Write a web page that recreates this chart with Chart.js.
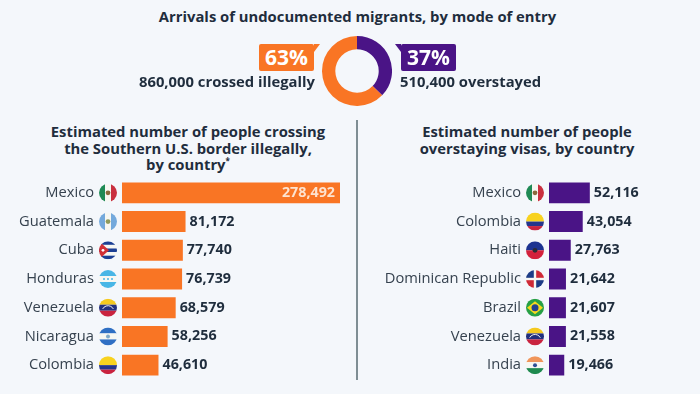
<!DOCTYPE html>
<html>
<head>
<meta charset="utf-8">
<script src="https://cdn.jsdelivr.net/npm/chart.js@4"></script>
<style>
html, body { margin: 0; padding: 0; }
body { width: 700px; height: 394px; background: #f4f7fb; position: relative; overflow: hidden; font-family: "Open Sans", sans-serif; color: #1f2d3d; }
canvas { position: absolute; }
.txt { position: absolute; font-weight: 700; white-space: nowrap; font-size: 14.8px; }
.center { text-align: center; }
.head { line-height: 16.5px; }
.badge { position: absolute; top: 44px; width: 55px; height: 27px; line-height: 27px; color: #fff; font-size: 21px; font-weight: 700; text-align: center; border-radius: 2px; }
.tail { position: absolute; top: 44px; width: 0; height: 0; border-top: 8px solid; }
#divider { position: absolute; left: 356px; top: 120px; width: 2px; height: 260px; background: #7f8e94; }
</style>
</head>
<body>
<div class="txt center" style="left:0;width:715px;top:7px;line-height:18px">Arrivals of undocumented migrants, by mode of entry</div>

<canvas id="entry_mode" width="70" height="70" style="left:322px;top:36px"></canvas>
<div class="badge" style="left:259px;background:#f97524">63%</div>
<div class="tail" style="left:314px;border-top-color:#f97524;border-right:6px solid transparent"></div>
<div class="badge" style="left:401px;background:#4a1486">37%</div>
<div class="tail" style="left:395px;border-top-color:#4a1486;border-left:6px solid transparent"></div>
<div class="txt" style="right:385px;top:72px;line-height:18px">860,000 crossed illegally</div>
<div class="txt" style="left:400px;top:72px;line-height:18px">510,400 overstayed</div>

<div class="txt center head" style="left:38px;width:300px;top:123px">Estimated number of people crossing<br>the Southern U.S. border illegally,<br>by country<sup style="font-size:8px;line-height:0">*</sup></div>
<div class="txt center head" style="left:377px;width:300px;top:123px">Estimated number of people<br>overstaying visas, by country</div>
<div id="divider"></div>

<canvas id="crossing" width="350" height="202" style="left:0;top:178px"></canvas>
<canvas id="overstay" width="350" height="202" style="left:350px;top:178px"></canvas>

<script>
var entryLabels = ['Overstayed', 'Crossed illegally'];
var entryValues = [510400, 860000];

var crossingCountries = ['Mexico', 'Guatemala', 'Cuba', 'Honduras', 'Venezuela', 'Nicaragua', 'Colombia'];
var crossingValues = [278492, 81172, 77740, 76739, 68579, 58256, 46610];

var overstayCountries = ['Mexico', 'Colombia', 'Haiti', 'Dominican Republic', 'Brazil', 'Venezuela', 'India'];
var overstayValues = [52116, 43054, 27763, 21642, 21607, 21558, 19466];

var ORANGE = '#f97524';
var PURPLE = '#4a1486';

// stripes go top to bottom, or left to right with vertical: true
function stripes(c, x, y, r, colors, vertical, shares) {
    var pos = -r;
    colors.forEach(function (col, i) {
        var size = 2 * r * (shares ? shares[i] : 1 / colors.length);
        c.fillStyle = col;
        if (vertical) c.fillRect(x + pos, y - r, size, 2 * r);
        else c.fillRect(x - r, y + pos, 2 * r, size);
        pos += size;
    });
}

function dot(c, x, y, r, col) {
    c.fillStyle = col;
    c.beginPath();
    c.arc(x, y, r, 0, Math.PI * 2);
    c.fill();
}

var flags = {
    'Mexico': function (c, x, y, r) {
        stripes(c, x, y, r, ['#1f8a55', '#f7f7f2', '#c9303f'], true);
        dot(c, x, y, 2.4, '#8a6a3c');
    },
    'Guatemala': function (c, x, y, r) {
        stripes(c, x, y, r, ['#74a9dc', '#f7f7f2', '#74a9dc'], true);
        dot(c, x, y, 2.4, '#8f9a5c');
    },
    'Cuba': function (c, x, y, r) {
        stripes(c, x, y, r, ['#1c3f94', '#f7f7f2', '#1c3f94', '#f7f7f2', '#1c3f94']);
        c.fillStyle = '#d22f36';
        c.beginPath();
        c.moveTo(x - r, y - r);
        c.lineTo(x + 1, y);
        c.lineTo(x - r, y + r);
        c.fill();
        dot(c, x - 5, y, 1.4, '#fff');
    },
    'Honduras': function (c, x, y, r) {
        stripes(c, x, y, r, ['#49b6e6', '#f7f7f2', '#49b6e6']);
        dot(c, x, y, 1, '#49b6e6');
        dot(c, x - 4, y, 1, '#49b6e6');
        dot(c, x + 4, y, 1, '#49b6e6');
    },
    'Venezuela': function (c, x, y, r) {
        stripes(c, x, y, r, ['#f5c91f', '#22307e', '#c9233f']);
        c.strokeStyle = '#f0f0f0';
        c.lineWidth = 1;
        c.beginPath();
        c.arc(x, y + 4, 6, Math.PI * 1.15, Math.PI * 1.85);
        c.stroke();
    },
    'Nicaragua': function (c, x, y, r) {
        stripes(c, x, y, r, ['#2f6fc4', '#f7f7f2', '#2f6fc4']);
        dot(c, x, y, 2, '#7fa9c9');
    },
    'Colombia': function (c, x, y, r) {
        stripes(c, x, y, r, ['#f8d21f', '#25358c', '#c9233f'], false, [0.5, 0.25, 0.25]);
    },
    'Haiti': function (c, x, y, r) {
        stripes(c, x, y, r, ['#1c3391', '#d3213c']);
        dot(c, x, y, 2.4, '#2b2b33');
    },
    'Dominican Republic': function (c, x, y, r) {
        stripes(c, x, y, r, ['#f7f7f2']);
        c.fillStyle = '#1d3c86';
        c.fillRect(x - r, y - r, r - 1.2, r - 1.2);
        c.fillRect(x + 1.2, y + 1.2, r, r);
        c.fillStyle = '#cf2a37';
        c.fillRect(x + 1.2, y - r, r, r - 1.2);
        c.fillRect(x - r, y + 1.2, r - 1.2, r);
    },
    'Brazil': function (c, x, y, r) {
        stripes(c, x, y, r, ['#27a045']);
        c.fillStyle = '#f7d81e';
        c.beginPath();
        c.moveTo(x - r + 1, y);
        c.lineTo(x, y - 6.5);
        c.lineTo(x + r - 1, y);
        c.lineTo(x, y + 6.5);
        c.fill();
        dot(c, x, y, 3.5, '#24408f');
    },
    'India': function (c, x, y, r) {
        stripes(c, x, y, r, ['#f0955a', '#f7f7f2', '#1f8a4f']);
        dot(c, x, y, 2, '#2f4f94');
    }
};

// flags next to the axis labels and numbers at the bar ends
var barExtras = {
    id: 'barExtras',
    afterDatasetsDraw: function (chart) {
        var c = chart.ctx;
        var yScale = chart.scales.y;
        var bars = chart.getDatasetMeta(0).data;
        chart.data.labels.forEach(function (name, i) {
            var y = yScale.getPixelForTick(i);
            var x = yScale.right - 14;
            c.save();
            c.beginPath();
            c.arc(x, y, 9, 0, Math.PI * 2);
            c.clip();
            flags[name](c, x, y, 9);
            c.restore();
        });
        c.save();
        c.font = '700 14.3px "Open Sans"';
        c.textBaseline = 'middle';
        bars.forEach(function (bar, i) {
            var text = chart.data.datasets[0].data[i].toLocaleString('en-US');
            if (bar.x - yScale.right > 180) {
                c.textAlign = 'right';
                c.fillStyle = '#fde3d0';
                c.fillText(text, bar.x - 5, bar.y);
            } else {
                c.textAlign = 'left';
                c.fillStyle = '#1f2d3d';
                c.fillText(text, bar.x + 4, bar.y);
            }
        });
        c.restore();
    }
};

function barChart(id, labels, values, color, axisWidth, xMax) {
    return new Chart(document.getElementById(id).getContext('2d'), {
        type: 'bar',
        data: {
            labels: labels,
            datasets: [{
                data: values,
                backgroundColor: color,
                barPercentage: 0.73,
                categoryPercentage: 1
            }]
        },
        options: {
            indexAxis: 'y',
            responsive: false,
            animation: false,
            layout: { padding: { top: 0.5, bottom: 0.5, right: 10 } },
            plugins: { legend: { display: false }, tooltip: { enabled: false } },
            scales: {
                x: { display: false, min: 0, max: xMax },
                y: {
                    border: { display: false },
                    grid: { display: false, drawTicks: false },
                    afterFit: function (scale) {
                        scale.width = axisWidth;
                        // tick padding must not eat into the rows
                        scale.paddingTop = 0;
                        scale.paddingBottom = 0;
                    },
                    ticks: {
                        autoSkip: false,
                        padding: 28,
                        color: '#36424f',
                        font: { family: '"Open Sans"', size: 14.7 }
                    }
                }
            }
        },
        plugins: [barExtras]
    });
}

new Chart(document.getElementById('entry_mode').getContext('2d'), {
    type: 'doughnut',
    data: {
        labels: entryLabels,
        datasets: [{ data: entryValues, backgroundColor: [PURPLE, ORANGE], borderWidth: 0 }]
    },
    options: {
        responsive: false,
        animation: false,
        cutout: '62%',
        plugins: { legend: { display: false }, tooltip: { enabled: false } }
    }
});

barChart('crossing', crossingCountries, crossingValues, ORANGE, 122, 278492);
barChart('overstay', overstayCountries, overstayValues, PURPLE, 199, 180000);
</script>
</body>
</html>
